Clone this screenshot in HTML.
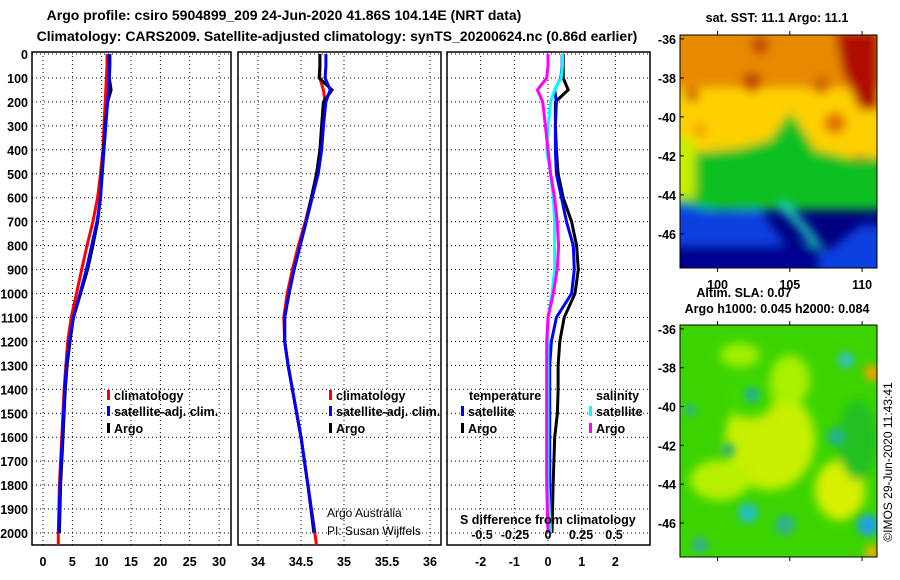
<!DOCTYPE html>
<html><head><meta charset="utf-8">
<style>
html,body{margin:0;padding:0;background:#fff;}
svg{display:block;font-family:"Liberation Sans",sans-serif;}
.b{font-weight:bold;font-size:12.5px;}
.t{font-weight:bold;font-size:14px;}
</style></head>
<body>
<svg id="fig" width="900" height="580" viewBox="0 0 900 580" xmlns="http://www.w3.org/2000/svg">
<defs>
<filter id="bl" x="-20%" y="-20%" width="140%" height="140%"><feGaussianBlur stdDeviation="5"/></filter>
<filter id="bl2" x="-20%" y="-20%" width="140%" height="140%"><feGaussianBlur stdDeviation="4"/></filter>
<clipPath id="c1"><rect x="680" y="35" width="197" height="233"/></clipPath>
<clipPath id="c2"><rect x="680" y="325" width="197" height="232"/></clipPath>
</defs>
<text class="t" x="284" y="20" text-anchor="middle">Argo profile: csiro 5904899_209 24-Jun-2020 41.86S 104.14E (NRT data)</text>
<text class="t" x="337" y="41" text-anchor="middle">Climatology: CARS2009. Satellite-adjusted climatology: synTS_20200624.nc (0.86d earlier)</text>
<g id="p1"></g>
<g id="p2"></g>
<g id="p3"></g>

<g>
<text class="b" x="777" y="22" text-anchor="middle">sat. SST: 11.1 Argo: 11.1</text>
<g clip-path="url(#c1)">
<rect x="680" y="35" width="197" height="233" fill="#000080"/>
<g filter="url(#bl)">
<rect x="670" y="25" width="220" height="75" fill="#e88a00"/>
<rect x="670" y="88" width="220" height="70" fill="#ffd000"/>
<path d="M670 145 L700 152 L740 148 L770 140 L790 112 L800 125 L815 150 L860 160 L890 155 L890 210 L670 210Z" fill="#10c020"/>
<rect x="670" y="138" width="25" height="60" fill="#c8f000"/>
<path d="M670 202 L720 212 L760 210 L790 250 L830 250 L860 225 L890 225 L890 280 L670 280Z" fill="#1040e0"/>
<path d="M780 205 Q800 220 820 250" stroke="#20d0c0" stroke-width="8" fill="none"/>
<rect x="670" y="245" width="150" height="30" fill="#000090"/>
<circle cx="752" cy="82" r="10" fill="#c04000"/>
<circle cx="821" cy="85" r="9" fill="#d06000"/>
<circle cx="835" cy="123" r="11" fill="#e07000"/>
<circle cx="692" cy="95" r="7" fill="#c85000"/>
<path d="M835 30 L880 30 L880 110 L860 110 L842 70Z" fill="#b01000"/>
<circle cx="760" cy="45" r="9" fill="#c04000"/>
<circle cx="700" cy="130" r="7" fill="#f0a000"/>
</g>
</g>
<rect x="680" y="35" width="197" height="233" fill="none" stroke="#000"/>
<g id="m1ax"></g>
</g>

<g>
<text class="b" x="744" y="297" text-anchor="middle">Altim. SLA: 0.07</text>
<text class="b" x="777" y="313" text-anchor="middle">Argo h1000: 0.045 h2000: 0.084</text>
<g clip-path="url(#c2)">
<rect x="680" y="325" width="197" height="232" fill="#3cd400"/>
<g filter="url(#bl)">
<ellipse cx="770" cy="440" rx="45" ry="50" fill="#c8f000"/>
<ellipse cx="840" cy="490" rx="25" ry="30" fill="#d8f000"/>
<ellipse cx="720" cy="480" rx="30" ry="20" fill="#b8f000"/>
<ellipse cx="790" cy="380" rx="20" ry="25" fill="#a8f000"/>
<ellipse cx="740" cy="355" rx="20" ry="12" fill="#a0f000"/>
<ellipse cx="858" cy="440" rx="20" ry="40" fill="#20c020"/>
<ellipse cx="750" cy="400" rx="25" ry="20" fill="#40d800"/>
</g>
<g filter="url(#bl2)">
<circle cx="752" cy="395" r="8" fill="#20b090"/>
<circle cx="846" cy="360" r="8" fill="#30c0c0"/>
<circle cx="836" cy="437" r="9" fill="#20b090"/>
<circle cx="748" cy="513" r="10" fill="#20c0c0"/>
<circle cx="785" cy="525" r="10" fill="#30b090"/>
<circle cx="868" cy="525" r="11" fill="#20a0e0"/>
<circle cx="728" cy="450" r="7" fill="#30b070"/>
<circle cx="690" cy="410" r="6" fill="#30b090"/>
<circle cx="700" cy="545" r="8" fill="#30b090"/>
<circle cx="872" cy="373" r="8" fill="#f0a000"/>
<circle cx="872" cy="552" r="7" fill="#f0b000"/>
</g>
</g>
<rect x="680" y="325" width="197" height="232" fill="none" stroke="#000"/>
<g id="m2ax"></g>
</g>
<text x="892" y="462" font-size="12" text-anchor="middle" transform="rotate(-90 892 462)">©IMOS 29-Jun-2020 11:43:41</text>
</svg>
<script>
// ---- data ----
const depths   = [0, 50, 100, 150, 200, 300, 400, 500, 600, 700, 800, 900, 1000, 1100, 1200, 1300, 1400, 1500, 1600, 1800, 2000, 2050];
const tempClim = [10.9, 10.9, 10.8, 10.7, 10.6, 10.4, 10.2, 9.8, 9.3, 8.5, 7.5, 6.6, 5.7, 4.8, 4.2, 3.9, 3.6, 3.4, 3.2, 2.8, 2.6, 2.6];
const tempSat  = [11.4, 11.4, 11.3, 11.2, 11.0, 10.7, 10.4, 10.1, 9.8, 9.2, 8.3, 7.4, 6.3, 5.2, 4.5, 4.0, 3.7, 3.5, 3.3, 2.9, 2.7, null];
const tempArgo = [11.3, 11.3, 11.3, 11.6, 11.0, 10.6, 10.3, 10.0, 9.8, 9.3, 8.5, 7.6, 6.4, 5.2, 4.6, 4.1, 3.8, 3.6, 3.4, 3.0, 2.8, null];
const salClim  = [34.72, 34.72, 34.72, 34.76, 34.78, 34.76, 34.74, 34.69, 34.62, 34.55, 34.47, 34.40, 34.34, 34.30, 34.31, 34.35, 34.40, 34.45, 34.50, 34.58, 34.66, 34.68];
const salSat   = [34.79, 34.79, 34.78, 34.84, 34.79, 34.76, 34.74, 34.70, 34.63, 34.56, 34.49, 34.42, 34.36, 34.31, 34.31, 34.35, 34.40, 34.45, 34.50, 34.58, 34.66, null];
const salArgo  = [34.72, 34.72, 34.71, 34.86, 34.76, 34.74, 34.72, 34.68, 34.62, 34.56, 34.49, 34.42, 34.36, 34.31, 34.31, 34.35, 34.40, 34.45, 34.50, 34.58, 34.65, null];
const dTSat    = [0.42, 0.42, 0.38, 0.2, 0.25, 0.22, 0.22, 0.25, 0.4, 0.55, 0.75, 0.78, 0.7, 0.25, 0.1, 0.05, 0.05, 0.05, 0.05, 0.05, 0.05, null];
const dTArgo   = [0.45, 0.45, 0.45, 0.6, 0.22, 0.22, 0.25, 0.3, 0.45, 0.7, 0.85, 0.9, 0.8, 0.48, 0.35, 0.3, 0.3, 0.28, 0.2, 0.15, 0.12, null];
const dSSat    = [0.11, 0.11, 0.1, 0.05, 0.02, 0.0, -0.01, 0.02, 0.04, 0.05, 0.05, 0.05, 0.03, 0.0, 0.0, 0.0, 0.0, 0.0, 0.0, 0.0, 0.02, null];
const dSArgo   = [0.0, 0.0, -0.01, -0.08, -0.04, -0.02, 0.0, 0.02, 0.05, 0.07, 0.08, 0.07, 0.04, 0.0, -0.01, -0.01, -0.01, -0.01, -0.01, -0.01, 0.0, null];
const depthTicks = [0,100,200,300,400,500,600,700,800,900,1000,1100,1200,1300,1400,1500,1600,1700,1800,1900,2000];
const tTicks = [0,5,10,15,20,25,30];
const sTicks = [34,34.5,35,35.5,36];
const dTicks = [-2,-1,0,1,2];
const dSTicks = [-0.5,-0.25,0,0.25,0.5];
const latTicks = [-36,-38,-40,-42,-44,-46];
const lonTicks = [100,105,110];

const NS='http://www.w3.org/2000/svg';
const TOP=52, BOT=545;
const yD = d => 54 + d*0.2395;
function el(tag, attrs, parent){const e=document.createElementNS(NS,tag);for(const k in attrs)e.setAttribute(k,attrs[k]);parent.appendChild(e);return e;}
function panel(g, x0, x1, xf, xticks, lbl){
  depthTicks.forEach(d=>{const l=el('line',{x1:x0,x2:x1,y1:yD(d),y2:yD(d),stroke:'#000','stroke-dasharray':'1 3'},g);
    
    });
  xticks.forEach(v=>{const x=xf(v);
    const l=el('line',{x1:x,x2:x,y1:TOP,y2:BOT,stroke:'#000','stroke-dasharray':'1 3'},g);
    
    
    const t=el('text',{x:x,y:566,'text-anchor':'middle',class:'b'},g);t.textContent=lbl(v);
    
    });
  const r=el('rect',{x:x0,y:TOP,width:x1-x0,height:BOT-TOP,fill:'none',stroke:'#000','stroke-width':1.5},g);
  
  
}
function line(g, xf, vals, color, name){
  const pts=[];vals.forEach((v,i)=>{if(v!==null)pts.push(xf(v).toFixed(1)+','+yD(depths[i]).toFixed(1));});
  const p=el('polyline',{points:pts.join(' '),fill:'none',stroke:color,'stroke-width':3},g);
  
  
}
function txt(g,x,y,s,cls,anchor){const t=el('text',{x:x,y:y,class:cls||'b','text-anchor':anchor||'start'},g);t.textContent=s;return t;}
function mark(g,x,y,c){const r=el('rect',{x:x,y:y-10,width:3,height:10,fill:c},g);
  
  }

// Panel 1
const g1=document.getElementById('p1');
const xT=v=>43+v*5.87;
panel(g1,32,231,xT,tTicks,v=>String(v));
depthTicks.forEach(d=>{const t=txt(g1,28,yD(d)+5,String(d),'b','end');
  
  });
line(g1,xT,tempClim,'#ff0000','temp-climatology-line');
line(g1,xT,tempArgo,'#000000','temp-argo-line');
line(g1,xT,tempSat,'#0000ff','temp-satellite-line');
[['climatology','#f00',400],['satellite-adj. clim.','#00f',416],['Argo','#000',433]].forEach(a=>{
  mark(g1,107,a[2],a[1]);const t=txt(g1,114,a[2],a[0]);
  
  });

// Panel 2
const g2=document.getElementById('p2');
const xS=v=>258+(v-34)*86;
panel(g2,238,441,xS,sTicks,v=>String(v));
line(g2,xS,salClim,'#ff0000','sal-climatology-line');
line(g2,xS,salArgo,'#000000','sal-argo-line');
line(g2,xS,salSat,'#0000ff','sal-satellite-line');
[['climatology','#f00',400],['satellite-adj. clim.','#00f',416],['Argo','#000',433]].forEach(a=>{
  mark(g2,329,a[2],a[1]);const t=txt(g2,336,a[2],a[0]);
  
  });
let t1=el('text',{x:327,y:517,'font-size':12},g2);t1.textContent='Argo Australia';


let t2=el('text',{x:327,y:535,'font-size':12},g2);t2.textContent='PI: Susan Wijffels';



// Panel 3
const g3=document.getElementById('p3');
const xDT=v=>548+v*33.7;
const xDS=v=>548+v*132;
panel(g3,447,650,xDT,dTicks,v=>String(v));
line(g3,xDT,dTArgo,'#000000','dtemp-argo-line');
line(g3,xDT,dTSat,'#0000ff','dtemp-satellite-line');
line(g3,xDS,dSSat,'#00ffff','dsal-satellite-line');
line(g3,xDS,dSArgo,'#ff00ff','dsal-argo-line');
txt(g3,469,400,'temperature');
txt(g3,596,400,'salinity');
[['satellite','#00f',416],['Argo','#000',433]].forEach(a=>{mark(g3,461,a[2],a[1]);txt(g3,468,a[2],a[0]);});
[['satellite','#0ff',416],['Argo','#f0f',433]].forEach(a=>{mark(g3,589,a[2],a[1]);txt(g3,596,a[2],a[0]);});
txt(g3,460,524,'S difference from climatology');
dSTicks.forEach(v=>{const t=txt(g3,xDS(v),539,String(v),'b','middle');
  
  });

// map axes
function mapAxes(id,y0,y1,withLon){
  const g=document.getElementById(id);
  latTicks.forEach(v=>{const y=y0+(v+35.8)*-( (y1-y0)/11.95);
    el('line',{x1:680,x2:684,y1:y,y2:y,stroke:'#000'},g);
    const t=txt(g,676,y+5,String(v),'b','end');
    
    });
  lonTicks.forEach(v=>{const x=680+(v-97.4)*14.45;
    el('line',{x1:x,x2:x,y1:y0-4,y2:y0,stroke:'#000'},g);
    el('line',{x1:x,x2:x,y1:y1,y2:y1+4,stroke:'#000'},g);
    if(withLon){const t=txt(g,x,y1+21,String(v),'b','middle');
      
      }});
}
mapAxes('m1ax',35,268,true);
mapAxes('m2ax',325,557,false);
</script>
</body></html>
